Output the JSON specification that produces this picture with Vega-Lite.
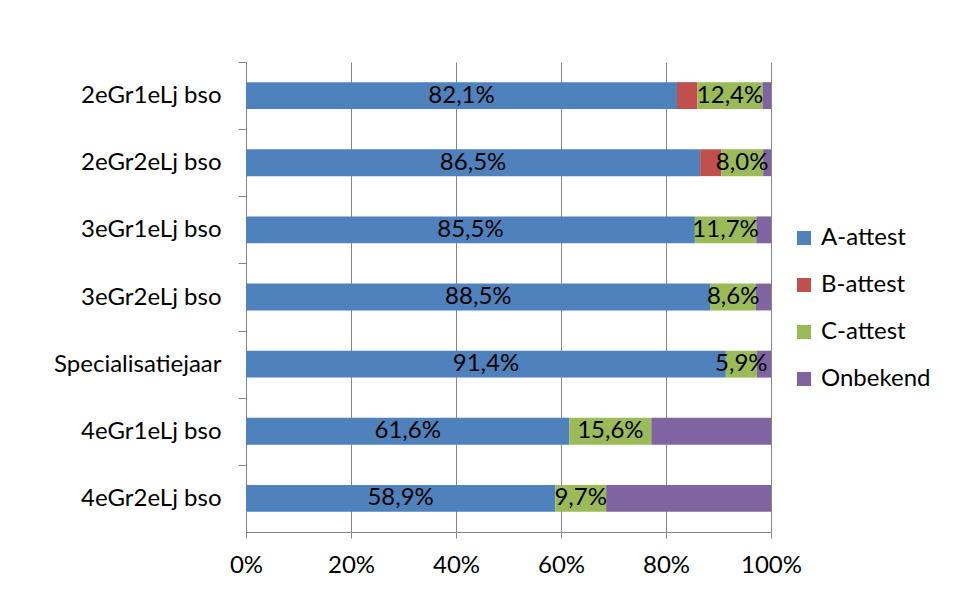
{
  "$schema": "https://vega.github.io/schema/vega-lite/v6.json",
  "autosize": {"type": "none"},
  "padding": {"left": 246, "top": 62, "right": 185, "bottom": 69},
  "width": 525,
  "height": 470,
  "background": "white",
  "data": {"values": [
    {"cat": "2eGr1eLj bso", "series": "A-attest", "value": 0.821},
    {"cat": "2eGr1eLj bso", "series": "B-attest", "value": 0.039},
    {"cat": "2eGr1eLj bso", "series": "C-attest", "value": 0.124},
    {"cat": "2eGr1eLj bso", "series": "Onbekend", "value": 0.016},
    {"cat": "2eGr2eLj bso", "series": "A-attest", "value": 0.865},
    {"cat": "2eGr2eLj bso", "series": "B-attest", "value": 0.04},
    {"cat": "2eGr2eLj bso", "series": "C-attest", "value": 0.08},
    {"cat": "2eGr2eLj bso", "series": "Onbekend", "value": 0.015},
    {"cat": "3eGr1eLj bso", "series": "A-attest", "value": 0.855},
    {"cat": "3eGr1eLj bso", "series": "B-attest", "value": 0.0},
    {"cat": "3eGr1eLj bso", "series": "C-attest", "value": 0.117},
    {"cat": "3eGr1eLj bso", "series": "Onbekend", "value": 0.028},
    {"cat": "3eGr2eLj bso", "series": "A-attest", "value": 0.885},
    {"cat": "3eGr2eLj bso", "series": "B-attest", "value": 0.0},
    {"cat": "3eGr2eLj bso", "series": "C-attest", "value": 0.086},
    {"cat": "3eGr2eLj bso", "series": "Onbekend", "value": 0.029},
    {"cat": "Specialisatiejaar", "series": "A-attest", "value": 0.914},
    {"cat": "Specialisatiejaar", "series": "B-attest", "value": 0.0},
    {"cat": "Specialisatiejaar", "series": "C-attest", "value": 0.059},
    {"cat": "Specialisatiejaar", "series": "Onbekend", "value": 0.027},
    {"cat": "4eGr1eLj bso", "series": "A-attest", "value": 0.616},
    {"cat": "4eGr1eLj bso", "series": "B-attest", "value": 0.0},
    {"cat": "4eGr1eLj bso", "series": "C-attest", "value": 0.156},
    {"cat": "4eGr1eLj bso", "series": "Onbekend", "value": 0.228},
    {"cat": "4eGr2eLj bso", "series": "A-attest", "value": 0.589},
    {"cat": "4eGr2eLj bso", "series": "B-attest", "value": 0.0},
    {"cat": "4eGr2eLj bso", "series": "C-attest", "value": 0.097},
    {"cat": "4eGr2eLj bso", "series": "Onbekend", "value": 0.314}
  ]},
  "transform": [
    {"stack": "value", "groupby": ["cat"], "sort": [{"field": "series"}], "offset": "normalize", "as": ["x0", "x1"]},
    {"calculate": "(datum.x0 + datum.x1) / 2", "as": "mid"}
  ],
  "encoding": {
    "y": {
      "field": "cat", "type": "nominal", "sort": null,
      "scale": {"paddingInner": 0.6, "paddingOuter": 0.3},
      "axis": {
        "title": null, "tickOffset": -33.57, "labelOffset": 33.57, "tickSize": 8, "tickColor": "#868686",
        "domainColor": "#868686", "labelFontSize": 24, "labelColor": "black",
        "labelFont": "Lato", "labelPadding": 17, "grid": false
      }
    }
  },
  "layer": [
    {
      "mark": {"type": "bar"},
      "encoding": {
        "x": {
          "field": "x0", "type": "quantitative",
          "scale": {"domain": [0, 1], "nice": false},
          "axis": {
            "title": null, "format": "%", "values": [0, 0.2, 0.4, 0.6, 0.8, 1],
            "grid": true, "gridColor": "#868686", "gridOpacity": 1,
            "domainColor": "#868686", "tickColor": "#868686", "tickSize": 6,
            "labelFontSize": 24, "labelColor": "black", "labelFont": "Lato",
            "labelPadding": 15, "labelFlush": false
          }
        },
        "x2": {"field": "x1"},
        "color": {
          "field": "series", "type": "nominal",
          "scale": {
            "domain": ["A-attest", "B-attest", "C-attest", "Onbekend"],
            "range": ["#4F81BD", "#C0504D", "#9BBB59", "#8064A2"]
          },
          "legend": {
            "title": null, "orient": "none", "legendX": 546, "legendY": 164,
            "symbolType": "square", "symbolSize": 196, "symbolStrokeWidth": 0,
            "labelFontSize": 24, "labelFont": "Lato", "labelColor": "black",
            "rowPadding": 23, "labelOffset": 5, "padding": 0
          }
        }
      }
    },
    {
      "transform": [{"filter": "datum.series == 'A-attest' || datum.series == 'C-attest'"}],
      "mark": {"type": "text", "fontSize": 24, "font": "Lato", "color": "black", "baseline": "middle"},
      "encoding": {
        "x": {"field": "mid", "type": "quantitative"},
        "text": {"field": "value", "type": "quantitative", "format": ".1%"}
      }
    }
  ],
  "config": {
    "view": {"stroke": null},
    "locale": {"number": {"decimal": ",", "thousands": ".", "grouping": [3], "currency": ["€", ""]}}
  }
}
